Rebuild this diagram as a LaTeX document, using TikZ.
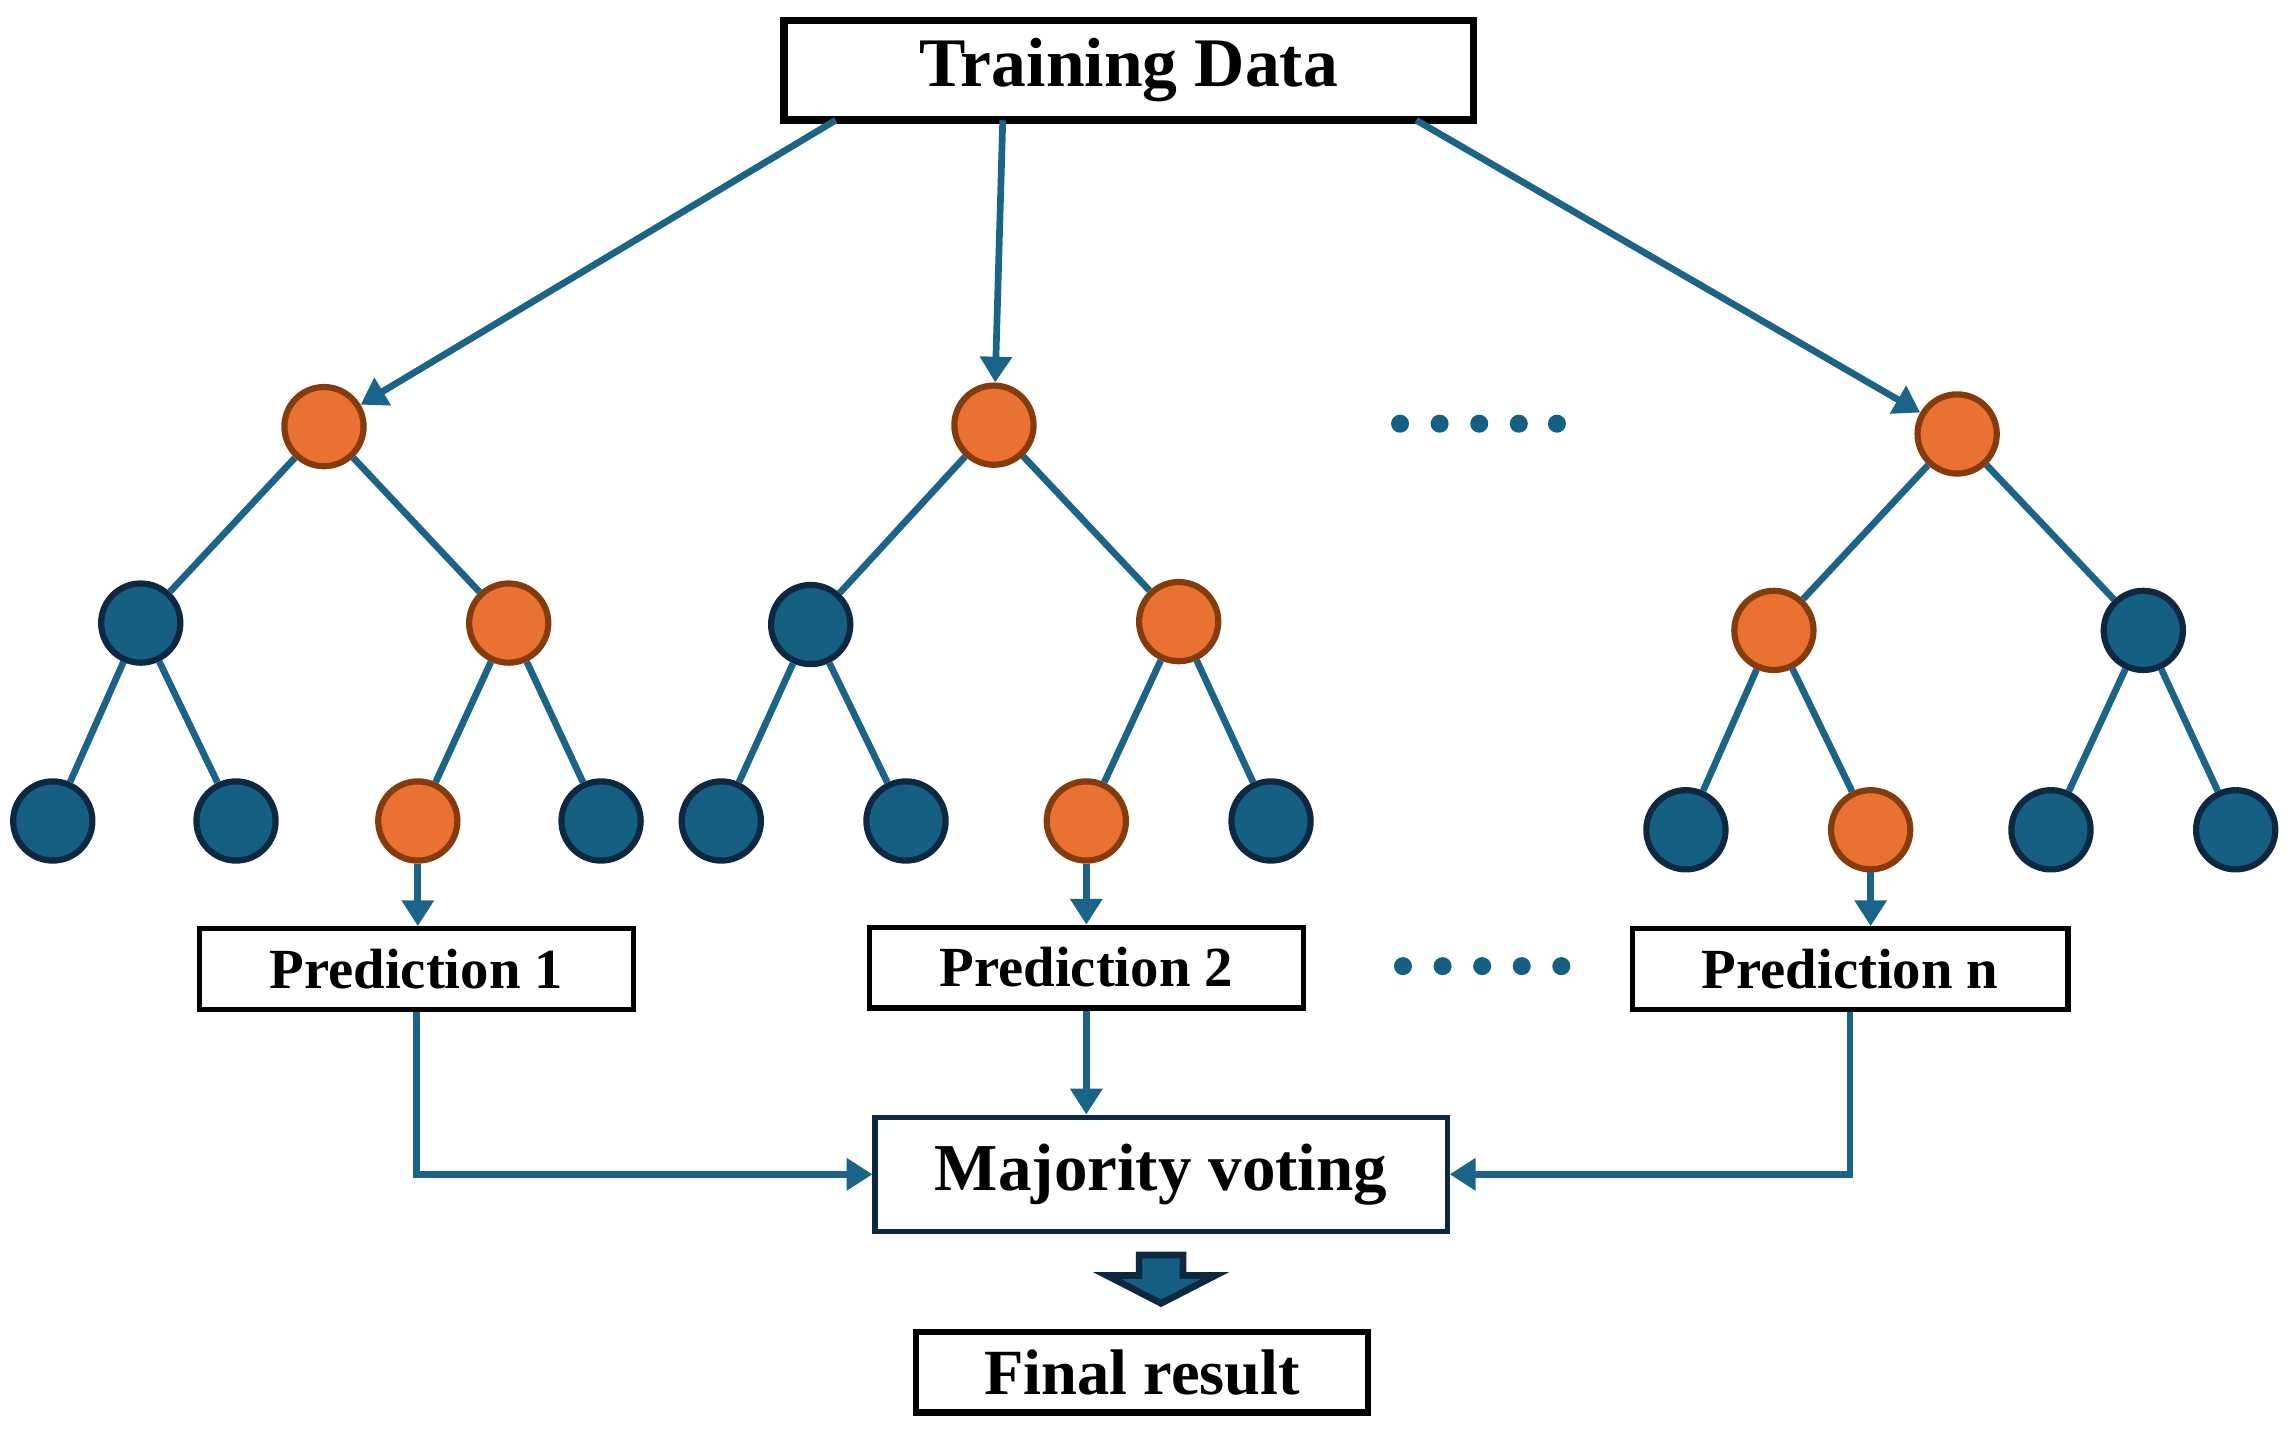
\documentclass[tikz,border=0pt]{standalone}
\usepackage{fontspec}
\setmainfont{Liberation Serif}
\usetikzlibrary{arrows.meta}
\definecolor{ora}{HTML}{E97132}
\definecolor{orb}{HTML}{843C0C}
\definecolor{dk}{HTML}{156082}
\definecolor{dkb}{HTML}{0E2841}
\definecolor{ln}{HTML}{1B6488}
\begin{document}
\begin{tikzpicture}[x=0.01cm,y=-0.01cm,
  o/.style={circle,fill=ora,draw=orb,line width=1.2pt,minimum size=0.54cm,inner sep=0},
  d/.style={circle,fill=dk,draw=dkb,line width=1.2pt,minimum size=0.54cm,inner sep=0},
  e/.style={draw=ln,line width=1.3pt},
  a/.style={draw=ln,line width=1.3pt,-{Triangle[length=5pt,width=6pt]}},
  box/.style={draw=black,line width=1pt,font=\bfseries\fontsize{11}{12}\selectfont,inner sep=0},
  dot/.style={circle,fill=dk,inner sep=0,minimum size=3.5pt}]
\useasboundingbox (0,0) rectangle (1560,975);
\node[box,line width=1.5pt,minimum width=4.7cm,minimum height=0.68cm,font=\bfseries\fontsize{13.5}{14}\selectfont] (td) at (770,48) {Training Data};
% tree 1
\node[o] (r1) at (221,291) {};
\node[d] (a1) at (96,425) {}; \node[o] (b1) at (347,425) {};
\node[d] (l11) at (36,560) {}; \node[d] (l12) at (161,560) {};
\node[o] (l13) at (285,560) {}; \node[d] (l14) at (410,560) {};
% tree 2
\node[o] (r2) at (678,290) {};
\node[d] (a2) at (553,426) {}; \node[o] (b2) at (804,424) {};
\node[d] (l21) at (492,560) {}; \node[d] (l22) at (618,560) {};
\node[o] (l23) at (741,560) {}; \node[d] (l24) at (867,560) {};
% tree n
\node[o] (r3) at (1335,296) {};
\node[o] (a3) at (1210,430) {}; \node[d] (b3) at (1462,430) {};
\node[d] (l31) at (1150,566) {}; \node[o] (l32) at (1276,566) {};
\node[d] (l33) at (1399,566) {}; \node[d] (l34) at (1525,566) {};
\foreach \p/\c in {r1/a1,r1/b1,a1/l11,a1/l12,b1/l13,b1/l14,r2/a2,r2/b2,a2/l21,a2/l22,b2/l23,b2/l24,r3/a3,r3/b3,a3/l31,a3/l32,b3/l33,b3/l34}
  \draw[e] (\p) -- (\c);
\foreach \x [count=\i] in {955,982,1009,1036,1062} \node[dot] (u\i) at (\x,289) {};
\foreach \x [count=\i] in {957,984,1011,1038,1065} \node[dot] (v\i) at (\x,659) {};
\coordinate (t1) at (570,82); \coordinate (t2) at (684,82); \coordinate (t3) at (966,82);
\draw[a] (t1) -- (r1);
\draw[a] (t2) -- (r2);
\draw[a] (t3) -- (r3);
\node[box,minimum width=2.96cm,minimum height=0.55cm] (p1) at (284,661) {Prediction 1};
\node[box,minimum width=2.96cm,minimum height=0.55cm] (p2) at (741,660) {Prediction 2};
\node[box,minimum width=2.97cm,minimum height=0.55cm] (p3) at (1262,661) {Prediction n};
\draw[a] (l13) -- (p1.north -| l13);
\draw[a] (l23) -- (p2.north -| l23);
\draw[a] (l32) -- (p3.north -| l32);
\node[box,draw=dkb,minimum width=3.9cm,minimum height=0.78cm,font=\bfseries\fontsize{13}{14}\selectfont] (mv) at (792,801) {Majority voting};
\node[box,line width=1.3pt,minimum width=3.08cm,minimum height=0.55cm,font=\bfseries\fontsize{12.5}{13}\selectfont] (fr) at (779,936) {Final result};
\draw[a] (p1.south) |- (mv.west);
\draw[a] (p2.south) -- (mv.north -| p2.south);
\draw[a] (p3.south) |- (mv.east);
\coordinate (bt) at (792,889);
\draw[fill=dk,draw=dkb,line width=1.3pt] (777,856) -- (807,856) -- (807,870) -- (829,870) -- (bt) -- (755,870) -- (777,870) -- cycle;
\end{tikzpicture}
\end{document}
